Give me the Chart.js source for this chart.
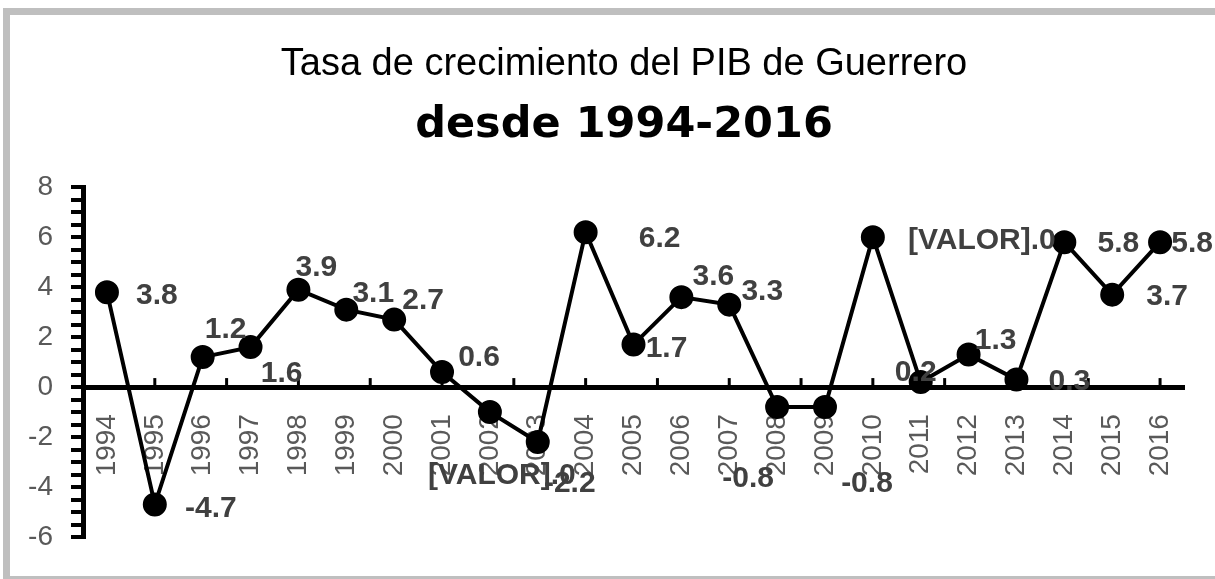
<!DOCTYPE html>
<html>
<head>
<meta charset="utf-8">
<script src="https://cdn.jsdelivr.net/npm/chart.js@4.4.1/dist/chart.umd.min.js"></script>
<style>
    html, body { margin: 0; padding: 0; background: #fff; overflow: hidden; }
    #wrap { position: relative; width: 1215px; height: 579px; overflow: hidden; }
    #pibChart { position: absolute; left: 0; top: 0; }
    #frame {
        position: absolute; left: 3px; top: 8px; width: 1212px; height: 571px;
        box-sizing: border-box;
        border-top: 7px solid #bfbfbf; border-left: 7px solid #bfbfbf;
        border-bottom: 3px solid #bfbfbf;
        pointer-events: none;
    }
</style>
</head>
<body>
<div id="wrap">
    <!-- canvas is a bit wider than the window so the titles sit centred like the original -->
    <canvas id="pibChart" width="1248" height="579"></canvas>
    <div id="frame"></div>
</div>
<script>
/* ==============================
   DATA
============================== */

const years = ["1994","1995","1996","1997","1998","1999","2000","2001","2002","2003","2004",
               "2005","2006","2007","2008","2009","2010","2011","2012","2013","2014","2015","2016"];

const growth = [3.8, -4.7, 1.2, 1.6, 3.9, 3.1, 2.7, 0.6, -1.0, -2.2, 6.2,
                1.7, 3.6, 3.3, -0.8, -0.8, 6.0, 0.2, 1.3, 0.3, 5.8, 3.7, 5.8];

// years whose data label shows the broken Excel field
const brokenLabelYears = ["2002", "2010"];

const titleText = "Tasa de crecimiento del PIB de Guerrero";
const subtitleText = "desde 1994-2016";

/* ==============================
   LABEL OFFSETS (px, from point centre)
============================== */

const labelOffsets = [
    [50, 4], [56, 4], [23, -27], [31, 27], [18, -22], [27, -16], [29, -19], [37, -14],
    [12, 64], [32, 42], [74, 7], [33, 4], [32, -20], [33, -13], [-29, 72], [42, 77],
    [109, 4], [-5, -9], [27, -14], [53, 2], [54, 2], [55, 2], [32, 2]
];

function labelFor(i) {
    if (brokenLabelYears.includes(years[i])) return "[VALOR].0";
    return growth[i].toFixed(1);
}

/* ==============================
   PLUGINS
============================== */

// data labels drawn next to each point
const pointLabels = {
    id: "pointLabels",
    afterDatasetsDraw(chart) {
        const ctx = chart.ctx;
        const meta = chart.getDatasetMeta(0);
        ctx.save();
        ctx.font = "bold 30px 'Liberation Sans', Arial, sans-serif";
        ctx.fillStyle = "#404040";
        ctx.textAlign = "center";
        ctx.textBaseline = "middle";
        meta.data.forEach((pt, i) => {
            const off = labelOffsets[i] || [30, 0];
            ctx.fillText(labelFor(i), pt.x + off[0], pt.y + off[1]);
        });
        ctx.restore();
    }
};

// small upward tick marks on the category axis (every 1.5 categories)
const xTickMarks = {
    id: "xTickMarks",
    beforeDatasetsDraw(chart) {
        const x = chart.scales.x, y = chart.scales.y;
        const ctx = chart.ctx;
        const y0 = y.getPixelForValue(0);
        ctx.save();
        ctx.strokeStyle = "#000";
        ctx.lineWidth = 3;
        for (let v = 1; v <= years.length - 1; v += 1.5) {
            const px = x.getPixelForValue(v);
            ctx.beginPath();
            ctx.moveTo(px, y0);
            ctx.lineTo(px, y0 - 9);
            ctx.stroke();
        }
        ctx.restore();
    }
};

/* ==============================
   CHART
============================== */

const tickFont = { family: "'Liberation Sans', Arial, sans-serif", size: 28 };

new Chart(document.getElementById("pibChart"), {
    type: "line",
    data: {
        labels: years,
        datasets: [{
            data: growth,
            borderColor: "#000",
            borderWidth: 4,
            pointRadius: 10,
            pointHoverRadius: 10,
            pointBackgroundColor: "#000",
            pointBorderColor: "#000",
            tension: 0,
            fill: false
        }]
    },
    options: {
        responsive: false,
        animation: false,
        events: [],
        layout: { padding: { left: 0, right: 0, top: 0, bottom: 42 } },
        plugins: {
            legend: { display: false },
            tooltip: { enabled: false },
            title: {
                display: true,
                text: titleText,
                color: "#000",
                font: { family: "'Liberation Sans', Arial, sans-serif", size: 38, weight: "normal" },
                padding: { top: 42, bottom: 0 }
            },
            subtitle: {
                display: true,
                text: subtitleText,
                color: "#000",
                font: { family: "'DejaVu Sans', sans-serif", size: 43, weight: "bold" },
                padding: { top: 12, bottom: 36 }
            }
        },
        scales: {
            x: {
                type: "category",
                offset: true,
                position: { y: 0 },
                grid: { display: false },
                border: { display: true, color: "#000", width: 5 },
                ticks: {
                    autoSkip: false,
                    minRotation: 90,
                    maxRotation: 90,
                    padding: 19,
                    color: "#595959",
                    font: tickFont
                },
                afterFit: s => { s.height = 0; }
            },
            y: {
                min: -6,
                max: 8,
                grid: {
                    drawOnChartArea: false,
                    drawTicks: true,
                    tickLength: 12,
                    color: "#000",
                    lineWidth: 4
                },
                border: { display: true, color: "#000", width: 5 },
                ticks: {
                    stepSize: 0.5,
                    maxTicksLimit: 100,
                    autoSkip: false,
                    padding: 18,
                    color: "#595959",
                    font: tickFont,
                    callback: v => {
                        const r = Math.round(v * 10) / 10;
                        return (Number.isInteger(r) && r % 2 === 0) ? String(r) : "";
                    }
                },
                afterFit: s => { s.width = 83; }
            },
            // empty right-hand spacer axis, leaves room on the right
            ySpacer: {
                position: "right",
                display: true,
                grid: { display: false },
                border: { display: false },
                ticks: { display: false },
                afterFit: s => { s.width = 64; }
            }
        }
    },
    plugins: [xTickMarks, pointLabels]
});
</script>
</body>
</html>
